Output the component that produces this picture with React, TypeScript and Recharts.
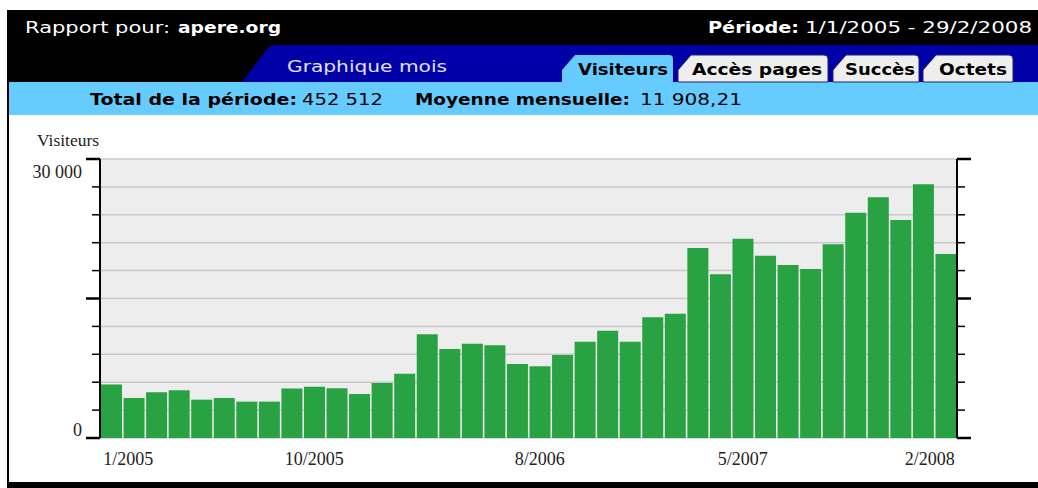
import React from "react";
import { ComposedChart, Bar, Line, XAxis, YAxis, CartesianGrid } from "recharts";

const MONTHS = [
  "1/2005", "2/2005", "3/2005", "4/2005", "5/2005", "6/2005", "7/2005", "8/2005", "9/2005", "10/2005", "11/2005", "12/2005",
  "1/2006", "2/2006", "3/2006", "4/2006", "5/2006", "6/2006", "7/2006", "8/2006", "9/2006", "10/2006", "11/2006", "12/2006",
  "1/2007", "2/2007", "3/2007", "4/2007", "5/2007", "6/2007", "7/2007", "8/2007", "9/2007", "10/2007", "11/2007", "12/2007",
  "1/2008", "2/2008",
];

const VISITORS = [
  5740, 4300, 4910, 5130, 4120, 4300, 3910, 3910, 5310, 5520, 5340, 4730,
  5910, 6920, 11150, 9570, 10140, 9960, 7960, 7710, 8930, 10360, 11540, 10360,
  12980, 13370, 20430, 17600, 21430, 19610, 18600, 18170, 20820, 24230, 25880, 23440,
  27280, 19790,
];

const X_LABELS = ["1/2005", "10/2005", "8/2006", "5/2007", "2/2008"];
const Y_TICKS = [0, 3000, 6000, 9000, 12000, 15000, 18000, 21000, 24000, 27000, 30000];
const Y_MAJOR = [0, 15000, 30000];
const Y_LABELS = ["0", "30 000"];

const data = MONTHS.map((m, i) => ({ month: m, visiteurs: VISITORS[i] }));

const SERIF = '"Liberation Serif", "Times New Roman", serif';
const SANS = '"DejaVu Sans", Verdana, sans-serif';

const TABS = [
  { label: "Visiteurs", x0: 562, x1: 673, tx: 578, tw: 90, active: true },
  { label: "Accès pages", x0: 678, x1: 828, tx: 692, tw: 130, active: false },
  { label: "Succès", x0: 833, x1: 919, tx: 845, tw: 70, active: false },
  { label: "Octets", x0: 923, x1: 1013, tx: 939, tw: 68, active: false },
];

function LeftTick(props: any) {
  const { x, y, payload } = props;
  const v = payload.value;
  const major = Y_MAJOR.includes(v);
  const label = v === 0 ? Y_LABELS[0] : v === 30000 ? Y_LABELS[1] : null;
  return (
    <g>
      <line x1={x - (major ? 14 : 8)} x2={x} y1={y} y2={y} stroke="#000" strokeWidth={major ? 2.5 : 1.5} />
      {label && (
        <text x={x - 18} y={v === 0 ? y - 2 : y + 19} textAnchor="end" fontFamily={SERIF} fontSize={18} fill="#222">
          {label}
        </text>
      )}
    </g>
  );
}

function RightTick(props: any) {
  const { x, y, payload } = props;
  const major = Y_MAJOR.includes(payload.value);
  return (
    <g>
      <line x1={x} x2={x + (major ? 14 : 8)} y1={y} y2={y} stroke="#000" strokeWidth={major ? 2.5 : 1.5} />
    </g>
  );
}

function MonthTick(props: any) {
  const { x, y, payload } = props;
  const idx = X_LABELS.indexOf(payload.value);
  if (idx < 0) return <g />;
  const first = idx === 0;
  const last = idx === X_LABELS.length - 1;
  return (
    <text
      x={first ? x - 8 : last ? x + 9 : x}
      y={y + 27}
      textAnchor={first ? "start" : last ? "end" : "middle"}
      fontFamily={SERIF}
      fontSize={18}
      fill="#222"
    >
      {payload.value}
    </text>
  );
}

function HText(props: { x: number; y: number; w: number; bold?: boolean; fill: string; children: string }) {
  return (
    <text
      x={props.x}
      y={props.y}
      fontFamily={SANS}
      fontSize={16}
      fontWeight={props.bold ? "bold" : "normal"}
      fill={props.fill}
      textLength={props.w}
      lengthAdjust="spacingAndGlyphs"
    >
      {props.children}
    </text>
  );
}

export default function App() {
  return (
    <div style={{ position: "absolute", left: 0, top: 0, width: 1038, height: 488, background: "#fff", overflow: "hidden" }}>
      <div style={{ position: "absolute", left: 0, top: 115 }}>
        <ComposedChart width={1038} height={367} data={data} margin={{ top: 44, right: 61, bottom: 14, left: 40 }} barCategoryGap={1}>
          <CartesianGrid yAxisId="left" vertical={false} fill="#ededed" stroke="#c9c9c9" strokeWidth={1.5} />
          <XAxis dataKey="month" interval={0} height={30} axisLine={false} tickLine={false} tickSize={0} tickMargin={0} tick={(p: any) => <MonthTick {...p} />} />
          <YAxis
            yAxisId="left"
            domain={[0, 30000]}
            ticks={Y_TICKS}
            interval={0}
            width={60}
            axisLine={{ stroke: "#000", strokeWidth: 2 }}
            tickLine={false}
            tickSize={0}
            tickMargin={0}
            tick={(p: any) => <LeftTick {...p} />}
          />
          <YAxis
            yAxisId="right"
            orientation="right"
            domain={[0, 30000]}
            ticks={Y_TICKS}
            interval={0}
            width={20}
            axisLine={{ stroke: "#000", strokeWidth: 2 }}
            tickLine={false}
            tickSize={0}
            tickMargin={0}
            tick={(p: any) => <RightTick {...p} />}
          />
          <Bar yAxisId="left" dataKey="visiteurs" fill="#29a243" isAnimationActive={false} />
          <Line yAxisId="right" dataKey="visiteurs" stroke="none" dot={false} activeDot={false} legendType="none" isAnimationActive={false} />
        </ComposedChart>
      </div>

      <svg width={1038} height={488} style={{ position: "absolute", left: 0, top: 0, pointerEvents: "none" }}>
        <rect x={8} y={10} width={1030} height={72} fill="#000" />
        <path d="M242,82 L268,48 Q271,45 277,45 L1038,45 L1038,82 Z" fill="#0000a8" />
        <rect x={8} y={82} width={1030} height={33} fill="#66ccff" />

        {TABS.map((t) => (
          <g key={t.label}>
            <path
              d={`M${t.x0},82 L${t.x0},70 L${t.x0 + 13},55 L${t.x1 - 4},55 Q${t.x1},55 ${t.x1},59 L${t.x1},82 Z`}
              fill={t.active ? "#66ccff" : "#eeeeee"}
              stroke={t.active ? "none" : "#22226a"}
              strokeWidth={1}
            />
            <text x={t.tx} y={75} fontFamily={SANS} fontSize={15} fontWeight="bold" fill="#000" textLength={t.tw} lengthAdjust="spacingAndGlyphs">
              {t.label}
            </text>
          </g>
        ))}

        <HText x={25} y={33} w={145} fill="#fff">Rapport pour:</HText>
        <HText x={178} y={33} w={103} bold fill="#fff">apere.org</HText>
        <HText x={708} y={33} w={91} bold fill="#fff">Période:</HText>
        <HText x={805} y={33} w={227} fill="#fff">1/1/2005 - 29/2/2008</HText>
        <HText x={287} y={72} w={160} fill="#e0e0ff">Graphique mois</HText>

        <HText x={90} y={105} w={207} bold fill="#000">Total de la période:</HText>
        <HText x={302} y={105} w={81} fill="#000">452 512</HText>
        <HText x={415} y={105} w={215} bold fill="#000">Moyenne mensuelle:</HText>
        <HText x={640} y={105} w={102} fill="#000">11 908,21</HText>

        <text x={37} y={146} fontFamily={SERIF} fontSize={17.5} fill="#222">Visiteurs</text>

        <rect x={7} y={10} width={2} height={478} fill="#000" />
        <rect x={7} y={482} width={1031} height={6} fill="#000" />
      </svg>
    </div>
  );
}
